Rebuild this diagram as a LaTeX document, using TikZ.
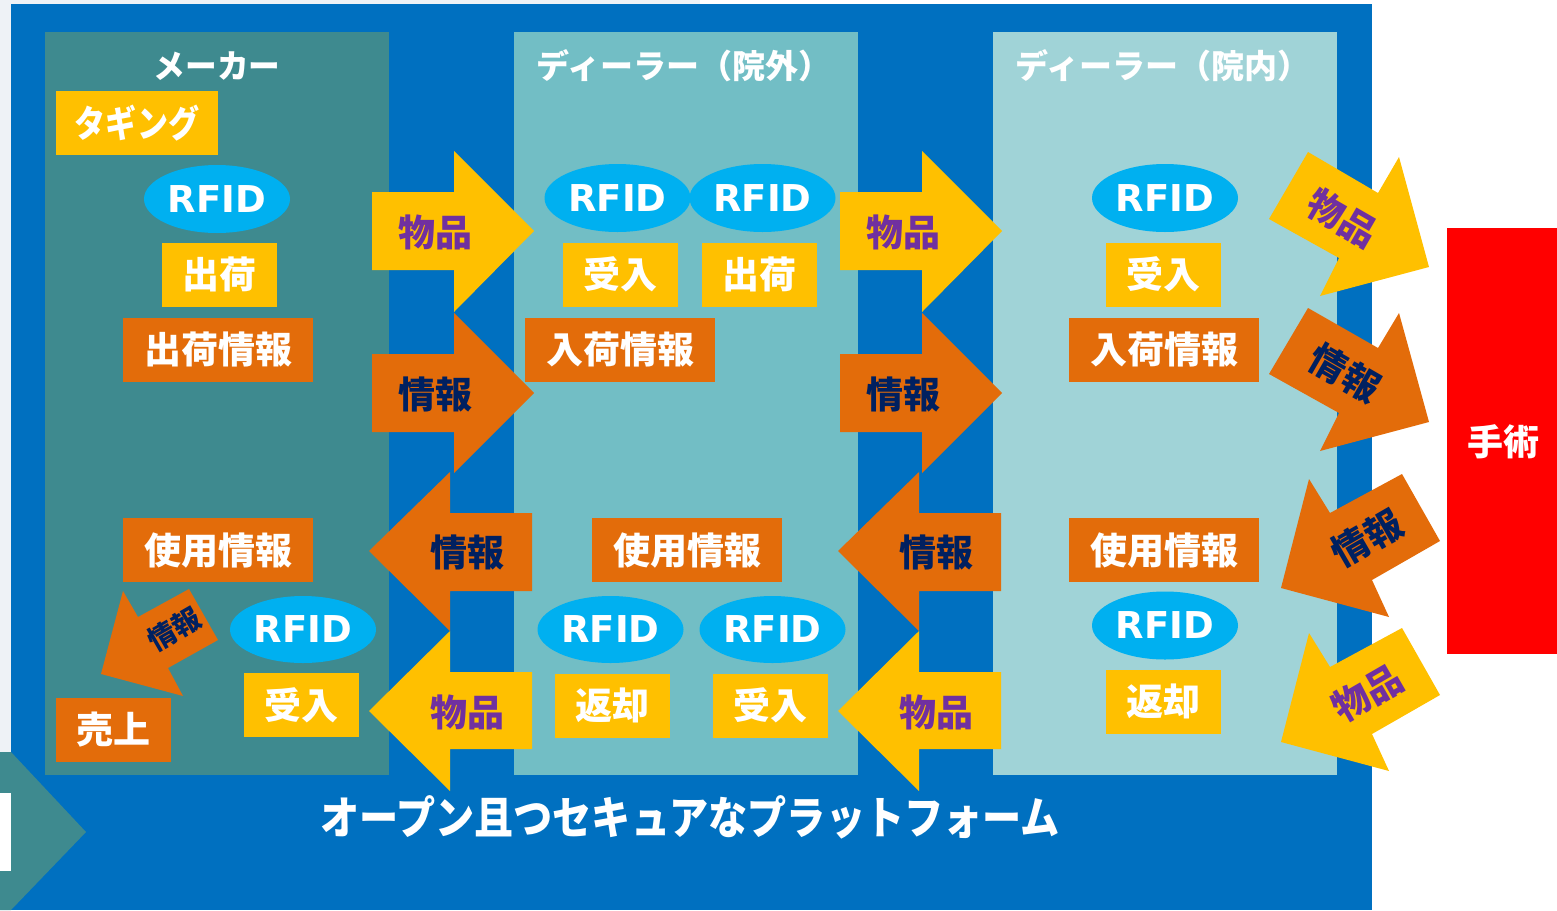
\documentclass[tikz,border=0pt]{standalone}
\usepackage{fontspec}
\newfontfamily\jp{Noto Sans CJK JP}
\newfontfamily\dv{DejaVu Sans}
\usetikzlibrary{shapes.geometric}
\definecolor{bgblue}{HTML}{0070C0}
\definecolor{colA}{HTML}{3E8A8F}
\definecolor{colB}{HTML}{72BEC5}
\definecolor{colC}{HTML}{A0D3D7}
\definecolor{ylw}{HTML}{FFC000}
\definecolor{org}{HTML}{E36C0A}
\definecolor{cyn}{HTML}{00B0F0}
\definecolor{prp}{HTML}{7030A0}
\definecolor{nvy}{HTML}{002060}
\definecolor{lightbg}{HTML}{EEF2F6}
\definecolor{sred}{HTML}{FF0000}
\newcommand\fbig{\jp\bfseries\fontsize{37}{40}\selectfont}
\newcommand\ftitle{\jp\bfseries\fontsize{33}{36}\selectfont}
\newcommand\fsmall{\jp\bfseries\fontsize{28}{30}\selectfont}
\newcommand\frfid{\dv\bfseries\fontsize{37}{40}\selectfont}
\newcommand\fplat{\jp\bfseries\fontsize{45}{48}\selectfont}
\tikzset{
  lbl/.style={inner sep=0, text=white, font=\fbig},
  ybox/.style={rectangle, fill=ylw, inner sep=0, minimum height=64, text=white, font=\fbig},
  obox/.style={rectangle, fill=org, inner sep=0, minimum height=64, text=white, font=\fbig},
  sbox/.style={ybox, minimum width=115},
  wbox/.style={obox, minimum width=190},
  rfid/.style={ellipse, fill=cyn, inner sep=0, minimum width=146, minimum height=68, text=white, font=\frfid},
  coltitle/.style={inner sep=0, text=white, font=\ftitle},
  goods/.style={inner sep=0, text=prp, font=\fbig},
  info/.style={inner sep=0, text=nvy, font=\fbig},
}
\begin{document}
\begin{tikzpicture}[x=1pt,y=-1pt]
\useasboundingbox (0,0) rectangle (1557,910);
% backgrounds
\fill[white] (0,0) rectangle (1557,910);
\fill[lightbg] (0,0) rectangle (700,4);
\fill[lightbg] (0,0) rectangle (11,752);
\fill[bgblue] (11,4) rectangle (1372,910);
% left teal arrow
\fill[colA] (0,752) -- (11,752) -- (86,832) -- (11,910) -- (0,910) -- cycle;
\fill[white] (0,793) rectangle (11,871);
% columns
\fill[colA] (45,32) rectangle (389,775);
\fill[colB] (514,32) rectangle (858,775);
\fill[colC] (993,32) rectangle (1337,775);
% surgery
\fill[sred] (1447,228) rectangle (1557,654);
\node[lbl, font=\jp\bfseries\fontsize{36}{40}\selectfont] (surg) at (1503,442) {手術};

% titles
\node[coltitle] (t1) at (217,66) {\scalebox{0.96}[1]{メーカー}};
\node[coltitle] (t2) at (684,66) {ディーラー（院外）};
\node[coltitle] (t3) at (1163,66) {ディーラー（院内）};

% column 1
\node[ybox, minimum width=162] (tag) at (137,123) {\scalebox{0.84}[1]{タギング}};
\node[rfid] (r1a) at (217,199) {RFID};
\node[sbox] (s1a) at (219.5,274.5) {出荷};
\node[wbox] (i1a) at (218,349.5) {出荷情報};
\node[wbox] (u1) at (218,550) {使用情報};
\node[rfid, minimum height=67] (r1b) at (303,629.5) {RFID};
\node[sbox] (a1) at (301,705) {受入};
\node[obox, minimum width=115] (sale) at (113.5,729.5) {売上};
% small info arrow
\fill[org] (123,591) -- (138,617) -- (189,589) -- (218,640) -- (168,668) -- (183,696) -- (101,674) -- cycle;
\node[info, font=\fsmall, rotate=30] (sinfo) at (174,629) {情報};

% column 2
\node[rfid] (r2a) at (617.5,198) {RFID};
\node[rfid] (r2b) at (762.5,198) {RFID};
\node[sbox] (a2) at (620,274.5) {受入};
\node[sbox] (s2) at (759.5,274.5) {出荷};
\node[wbox] (n2) at (620,349.5) {入荷情報};
\node[wbox] (u2) at (687,550) {使用情報};
\node[rfid, minimum height=67] (r2c) at (610.5,629.5) {RFID};
\node[rfid, minimum height=67] (r2d) at (772.5,629.5) {RFID};
\node[sbox] (ret2) at (612.5,705.5) {返却};
\node[sbox] (a2b) at (770.5,705.5) {受入};

% column 3
\node[rfid] (r3a) at (1165,198) {RFID};
\node[sbox] (a3) at (1163.5,274.5) {受入};
\node[wbox] (n3) at (1164,349.5) {入荷情報};
\node[wbox] (u3) at (1164,550) {使用情報};
\node[rfid] (r3b) at (1165,625.5) {RFID};
\node[sbox] (ret3) at (1163.5,701.5) {返却};

% block arrows gap 1 and gap 2
\foreach \dx in {0,468}{
  \fill[ylw] (372+\dx,192) -- (454+\dx,192) -- (454+\dx,151) -- (534+\dx,231) -- (454+\dx,312) -- (454+\dx,270) -- (372+\dx,270) -- cycle;
  \fill[org] (372+\dx,354) -- (454+\dx,354) -- (454+\dx,313) -- (534+\dx,393) -- (454+\dx,473) -- (454+\dx,432) -- (372+\dx,432) -- cycle;
}
\foreach \dx in {0,469}{
  \fill[org] (532+\dx,513) -- (450+\dx,513) -- (450+\dx,472) -- (369+\dx,551) -- (450+\dx,631) -- (450+\dx,591) -- (532+\dx,591) -- cycle;
  \fill[ylw] (532+\dx,672) -- (450+\dx,672) -- (450+\dx,631) -- (369+\dx,711) -- (450+\dx,791) -- (450+\dx,749) -- (532+\dx,749) -- cycle;
}
\node[goods] (g1r) at (435,232) {物品};
\node[info] (f1r) at (435,394) {情報};
\node[info] (f1l) at (467,552) {情報};
\node[goods] (g1l) at (467,712) {物品};
\node[goods] (g2r) at (903,232) {物品};
\node[info] (f2r) at (903,394) {情報};
\node[info] (f2l) at (936,552) {情報};
\node[goods] (g2l) at (936,712) {物品};

% right rotated arrows
\fill[ylw] (1269,219) -- (1308,152) -- (1378,193) -- (1399,157) -- (1429,267) -- (1320,296) -- (1339,258) -- cycle;
\fill[org] (1269,374) -- (1308,308) -- (1378,348) -- (1399,313) -- (1429,422) -- (1320,451) -- (1339,413) -- cycle;
\fill[org] (1402,474) -- (1440,541) -- (1372,580) -- (1389,617) -- (1281,588) -- (1309,479) -- (1330,513) -- cycle;
\fill[ylw] (1402,628) -- (1440,695) -- (1372,734) -- (1389,771) -- (1281,742) -- (1309,633) -- (1330,667) -- cycle;
\node[goods, rotate=-30] (g3r) at (1343,218) {物品};
\node[info, rotate=-30] (f3r) at (1345,373) {情報};
\node[info, rotate=30] (f3l) at (1367,538) {情報};
\node[goods, rotate=30] (g3l) at (1367,693) {物品};

% platform text
\node[lbl, font=\fplat] (plat) at (690,817) {\scalebox{0.87}[1]{オープン且つセキュアなプラットフォーム}};
\end{tikzpicture}
\end{document}
